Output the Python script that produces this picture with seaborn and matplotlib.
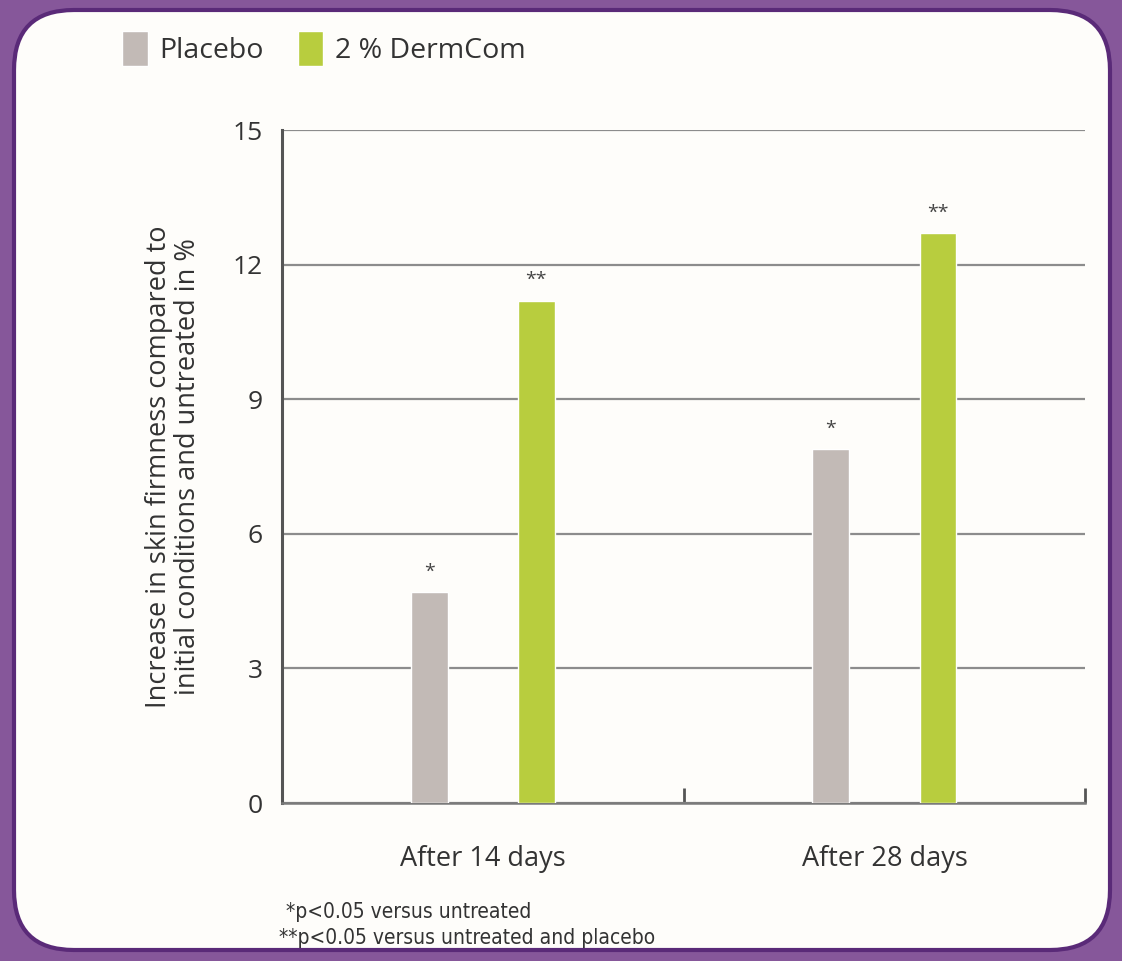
import pandas as pd
import matplotlib.pyplot as plt
import seaborn as sns
from matplotlib.patches import FancyBboxPatch

# values
periods = ['After 14 days', 'After 28 days']
treatments = ['Placebo', '2 % DermCom']
placebo_vals = [4.7, 7.9]
dermcom_vals = [11.2, 12.7]
stars_placebo = ['*', '*']
stars_dermcom = ['**', '**']
y_ticks = [0, 3, 6, 9, 12, 15]
footnotes = ['*p<0.05 versus untreated',
             '**p<0.05 versus untreated and placebo']
ylabel = 'Increase in skin firmness compared to\ninitial conditions and untreated in %'

colors = {'Placebo': '#c2bab6', '2 % DermCom': '#b8cd3e'}


def plot_firmness():
    df = pd.DataFrame({
        'Period': periods * 2,
        'Treatment': [treatments[0]] * 2 + [treatments[1]] * 2,
        'Value': placebo_vals + dermcom_vals,
    })

    sns.set_style('white')
    plt.rcParams['font.family'] = ['Open Sans', 'DejaVu Sans']

    fig = plt.figure(figsize=(11.22, 9.61), dpi=100)
    fig.patch.set_facecolor('#86579a')

    # white rounded panel
    panel = FancyBboxPatch((0.14, 0.11), 10.96, 9.40,
                           boxstyle='round,pad=0,rounding_size=0.6',
                           transform=fig.dpi_scale_trans,
                           facecolor='#fefdfa', edgecolor='#5a2a78',
                           linewidth=3, zorder=-5)
    fig.patches.append(panel)

    ax = fig.add_axes([0.2513, 0.1644, 0.716, 0.7003])
    ax.set_facecolor('none')

    sns.barplot(data=df, x='Period', y='Value', hue='Treatment',
                hue_order=treatments, order=periods, palette=colors,
                saturation=1, width=0.533, gap=0.655, ax=ax, zorder=3)

    ax.set_xlim(-0.5, 1.5)
    ax.set_ylim(0, 15)
    ax.set_yticks(y_ticks)
    ax.yaxis.grid(True, color='#8c8c8c', linewidth=1.6)
    ax.set_axisbelow(True)

    for side in ['top', 'right']:
        ax.spines[side].set_visible(False)
    ax.spines['left'].set_color('#555555')
    ax.spines['left'].set_linewidth(2.2)
    ax.spines['bottom'].set_color('#7a7a7a')
    ax.spines['bottom'].set_linewidth(1.8)

    ax.tick_params(axis='y', length=0, labelsize=19, labelcolor='#333333', pad=14)
    ax.tick_params(axis='x', which='major', length=0, labelsize=19.5,
                   labelcolor='#333333', pad=30)
    ax.set_xticks([0.5, 1.5], minor=True)
    ax.tick_params(axis='x', which='minor', bottom=True, direction='in',
                   length=11, width=2, color='#555555')

    ax.set_xlabel('')
    ax.set_ylabel(ylabel, fontsize=19.5, color='#333333', labelpad=22,
                  linespacing=1.05)

    # significance stars above bars
    bars = [p for p in ax.patches if p.get_height() > 0]
    stars = stars_placebo + stars_dermcom
    for bar, s in zip(bars, stars):
        ax.text(bar.get_x() + bar.get_width() / 2, bar.get_height() + 0.25, s,
                ha='center', va='bottom', fontsize=14, color='#444444')

    sns.move_legend(ax, 'upper left', bbox_to_anchor=(0.086, 0.994),
                    bbox_transform=fig.transFigure, ncol=2, frameon=False,
                    title=None, fontsize=20.5, handlelength=0.9, handleheight=1.5,
                    handletextpad=0.4, columnspacing=1.2)
    for t in ax.get_legend().get_texts():
        t.set_color('#333333')

    fig.text(0.255, 0.045, footnotes[0], fontsize=15, color='#333333',
             family='DejaVu Sans', stretch='condensed')
    fig.text(0.249, 0.018, footnotes[1], fontsize=15, color='#333333',
             family='DejaVu Sans', stretch='condensed')

    plt.savefig('out.png', dpi=100, facecolor=fig.get_facecolor())


if __name__ == '__main__':
    plot_firmness()
